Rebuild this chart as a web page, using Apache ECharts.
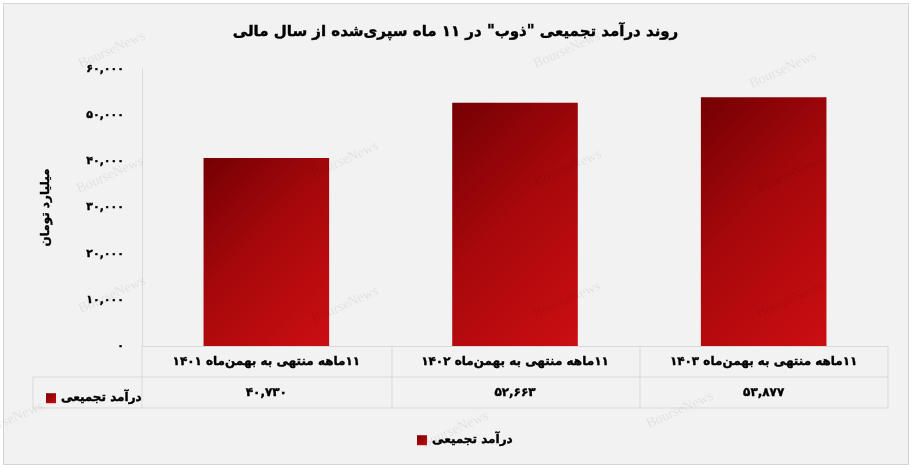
<!DOCTYPE html>
<html dir="rtl">
<head>
<meta charset="utf-8">
<script src="https://cdn.jsdelivr.net/npm/echarts@6/dist/echarts.min.js"></script>
<style>
html,body{margin:0;padding:0;background:#fff;}
#c{width:911px;height:468px;}
</style>
</head>
<body>
<div id="c"></div>
<script>
const titleText = 'روند درآمد تجمیعی "ذوب" در ۱۱ ماه سپری‌شده از سال مالی';
const seriesName = 'درآمد تجمیعی';
const yAxisName = 'میلیارد تومان';
const categories = [
  '۱۱ماهه منتهی به بهمن‌ماه ۱۴۰۱',
  '۱۱ماهه منتهی به بهمن‌ماه ۱۴۰۲',
  '۱۱ماهه منتهی به بهمن‌ماه ۱۴۰۳'
];
const revenue = [40730, 52663, 53877];
const yMax = 60000;
const yInterval = 10000;

const faDigits = '۰۱۲۳۴۵۶۷۸۹';
const fa = s => String(s).replace(/\d/g, d => faDigits[d]);
const fmt = v => fa(Number(v).toLocaleString('en-US'));

const FONT = 'DejaVu Sans';
const LINE = '#d9d9d9';
const boldText = (size) => ({fontFamily: FONT, fontSize: size, fontWeight: 'bold', color: '#000',
  textBorderColor: '#000', textBorderWidth: 0.4});

// 45-degree diagonal gradient (in pixel space) like the original
function barColor(p) {
  const w = 126, h = Math.max(1, p.value / yMax * 276);
  const x2 = (w + h) / (2 * w), y2 = (w + h) / (2 * h);
  return new echarts.graphic.LinearGradient(0, 0, x2, y2, [
    {offset: 0, color: '#740003'},
    {offset: 0.45, color: '#a6080b'},
    {offset: 1, color: '#cc0e12'}
  ]);
}

const chart = echarts.init(document.getElementById('c'), null, {renderer: 'canvas'});

const wm = [];
[[112,50],[567,50],[783,70],[110,175],[345,160],[568,168],[790,175],[112,295],[345,305],[567,300],[790,300],[10,420],[455,430],[680,410]].forEach(p => {
  wm.push({type: 'text', x: p[0], y: p[1], rotation: 0.42, z: 100,
    style: {text: 'BourseNews', fill: 'rgba(0,0,0,0.07)', font: '14px "Liberation Serif"', align: 'center', verticalAlign: 'middle'}});
});

const lines = [
  [142, 346, 142, 408],
  [392, 346, 392, 408],
  [640, 346, 640, 408],
  [888, 346, 888, 408],
  [33, 377, 888, 377],
  [33, 408, 888, 408],
  [33, 377, 33, 408]
].map(l => ({type: 'line', z: 1, shape: {x1: l[0], y1: l[1], x2: l[2], y2: l[3]}, style: {stroke: LINE, lineWidth: 1}}));

const legendGrad = new echarts.graphic.LinearGradient(0, 0, 1, 1, [
  {offset: 0, color: '#7a0003'}, {offset: 1, color: '#c80d10'}
]);

chart.setOption({
  backgroundColor: 'transparent',
  textStyle: {fontFamily: FONT},
  title: {
    text: titleText, left: 'center', top: 20,
    textStyle: boldText(15)
  },
  graphic: [
    {type: 'rect', z: -10, shape: {x: 3.5, y: 3.5, width: 905, height: 461}, style: {fill: '#f2f2f2', stroke: '#d4d4d4', lineWidth: 1}}
  ].concat(lines).concat(wm),
  legend: [
    {data: [{name: seriesName, icon: 'rect', itemStyle: {color: legendGrad}}], left: 412, top: 429, itemWidth: 10, itemHeight: 10, itemGap: 6,
      textStyle: boldText(12)},
    {data: [{name: seriesName, icon: 'rect', itemStyle: {color: legendGrad}}], left: 41, top: 387, itemWidth: 10, itemHeight: 10, itemGap: 6,
      textStyle: boldText(12)}
  ],
  grid: {left: 142, right: 23, top: 69, bottom: 122, containLabel: false},
  xAxis: [
    {type: 'category', data: categories,
      axisLine: {show: true, lineStyle: {color: LINE}},
      axisTick: {show: false},
      axisLabel: Object.assign({margin: 10}, boldText(12))},
    {type: 'category', data: revenue.map(fmt), position: 'bottom', offset: 31,
      axisLine: {show: false}, axisTick: {show: false},
      axisLabel: Object.assign({margin: 10}, boldText(12))}
  ],
  yAxis: {
    type: 'value', min: 0, max: yMax, interval: yInterval,
    name: yAxisName, nameLocation: 'middle', nameRotate: 90, nameGap: 90,
    nameTextStyle: boldText(12),
    axisLine: {show: true, lineStyle: {color: LINE}},
    axisTick: {show: false},
    splitLine: {show: false},
    axisLabel: Object.assign({margin: 18, formatter: v => fmt(v)}, boldText(11))
  },
  series: [{
    name: seriesName, type: 'bar', data: revenue, barWidth: '50.5%',
    itemStyle: {color: barColor}
  }]
});
</script>
</body>
</html>
